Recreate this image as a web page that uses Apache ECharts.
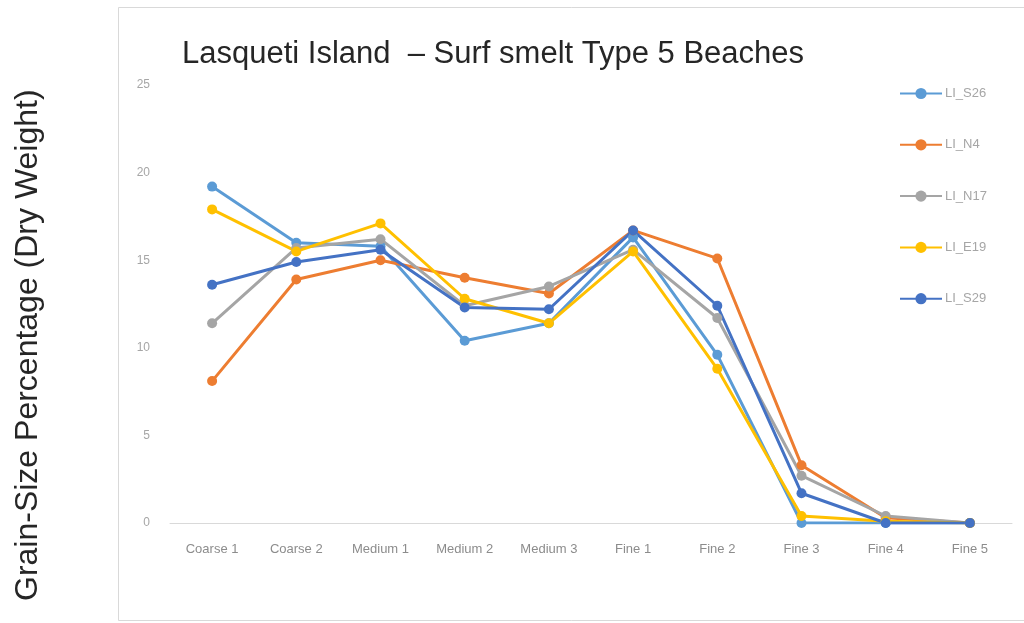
<!DOCTYPE html>
<html><head><meta charset="utf-8">
<script src="https://cdn.jsdelivr.net/npm/echarts@6/dist/echarts.min.js"></script>
<style>html,body{margin:0;padding:0;background:#fff}#c{width:1024px;height:623px}</style>
</head><body><div id="c"></div>
<script>
const categories = ['Coarse 1','Coarse 2','Medium 1','Medium 2','Medium 3','Fine 1','Fine 2','Fine 3','Fine 4','Fine 5'];
const LI_S26 = [19.2, 16.0, 15.8, 10.4, 11.4, 16.3, 9.6, 0.0, 0.0, 0.0];
const LI_N4  = [8.1, 13.9, 15.0, 14.0, 13.1, 16.7, 15.1, 3.3, 0.3, 0.0];
const LI_N17 = [11.4, 15.7, 16.2, 12.4, 13.5, 15.6, 11.7, 2.7, 0.4, 0.0];
const LI_E19 = [17.9, 15.5, 17.1, 12.8, 11.4, 15.5, 8.8, 0.4, 0.1, 0.0];
const LI_S29 = [13.6, 14.9, 15.6, 12.3, 12.2, 16.7, 12.4, 1.7, 0.0, 0.0];
const yTicks = [0, 5, 10, 15, 20, 25];

const seriesDefs = [
  ['LI_S26', LI_S26, '#5B9BD5'],
  ['LI_N4', LI_N4, '#ED7D31'],
  ['LI_N17', LI_N17, '#A5A5A5'],
  ['LI_E19', LI_E19, '#FFC000'],
  ['LI_S29', LI_S29, '#4472C4']
];

const chart = echarts.init(document.getElementById('c'));
chart.setOption({
  animation: false,
  backgroundColor: '#fff',
  title: {
    text: 'Lasqueti Island  – Surf smelt Type 5 Beaches',
    left: 177, top: 34,
    textStyle: { fontFamily: 'Liberation Sans', fontSize: 31, fontWeight: 'normal', color: '#262626' }
  },
  legend: {
    orient: 'vertical', left: 894, top: 82, itemGap: 38.3,
    itemWidth: 42, itemHeight: 14,
    data: seriesDefs.map(s => s[0]),
    textStyle: { fontFamily: 'Liberation Sans', fontSize: 13, color: '#a6a6a6', padding: [0, 0, 0, -2] }
  },
  graphic: [{
    type: 'rect', shape: { x: 118.5, y: 7.5, width: 910, height: 613 },
    style: { fill: 'none', stroke: '#d9d9d9', lineWidth: 1 }, silent: true, z: -1
  }, {
    type: 'text', rotation: Math.PI / 2,
    x: 12, y: 601,
    style: { text: 'Grain-Size Percentage (Dry Weight)', fontFamily: 'Liberation Sans', fontSize: 32, fill: '#262626',
      align: 'left', verticalAlign: 'top' }
  }],
  grid: { left: 170, right: 12, top: 85, bottom: 100 },
  xAxis: {
    type: 'category', data: categories, boundaryGap: true,
    axisLine: { lineStyle: { color: '#d9d9d9', width: 1 } },
    axisTick: { show: false },
    axisLabel: { margin: 20, color: '#8c8c8c', fontSize: 13, fontFamily: 'Liberation Sans Narrow, Liberation Sans', interval: 0 }
  },
  yAxis: {
    type: 'value', min: 0, max: 25, interval: 5,
    axisLine: { show: false }, axisTick: { show: false },
    splitLine: { show: false },
    axisLabel: { margin: 20, color: '#a6a6a6', fontSize: 12, fontFamily: 'Liberation Sans Narrow, Liberation Sans',
      formatter: v => yTicks.includes(v) ? String(v) : '' }
  },
  series: seriesDefs.map(s => ({
    name: s[0], type: 'line', data: s[1],
    symbol: 'circle', symbolSize: 10,
    lineStyle: { width: 3, color: s[2] },
    itemStyle: { color: s[2] }
  }))
});
</script></body></html>
